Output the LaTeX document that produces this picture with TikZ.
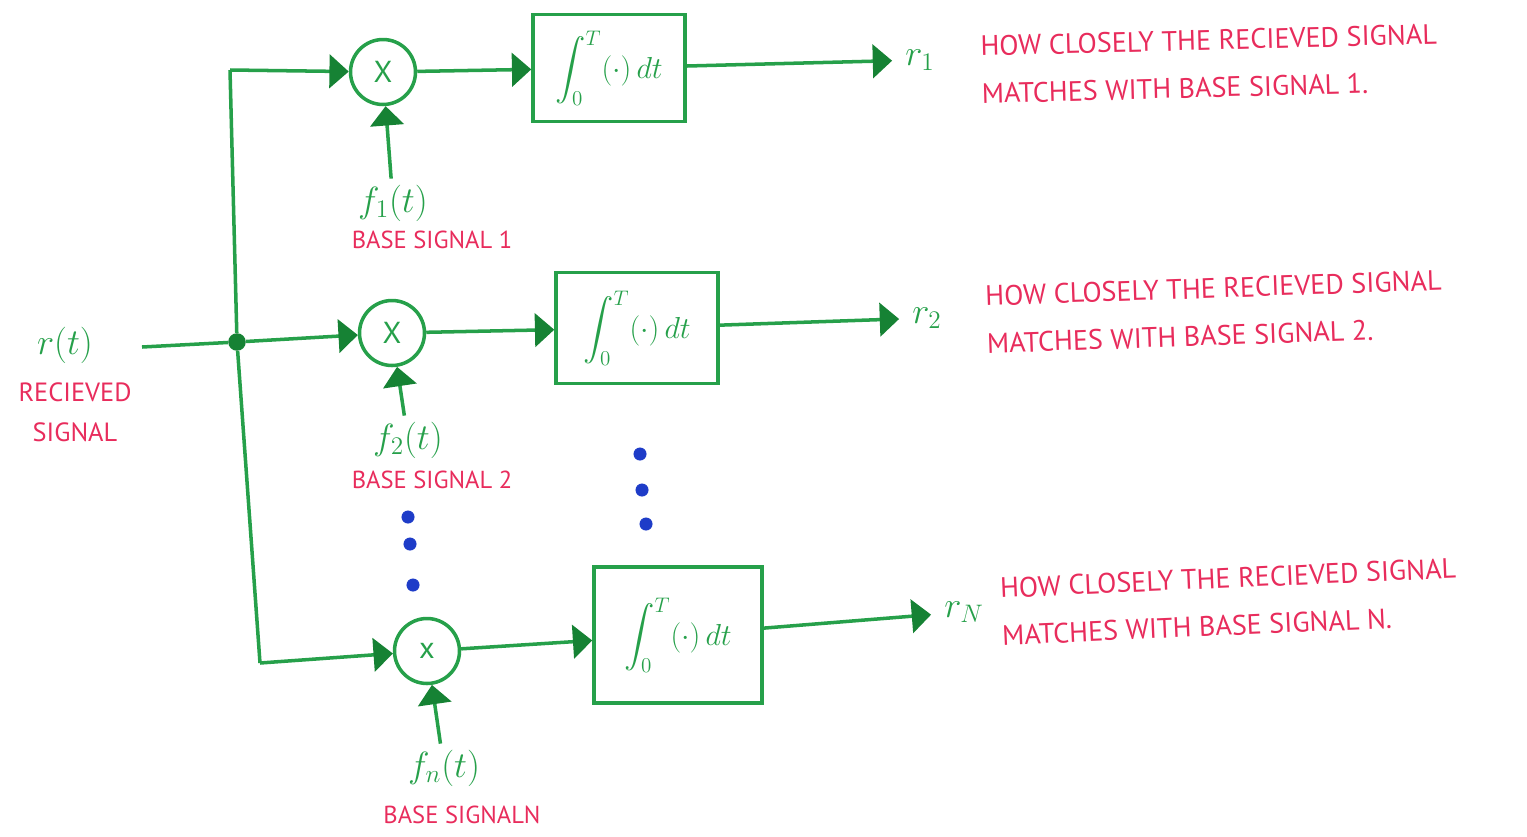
\documentclass[tikz,border=0pt]{standalone}
\usepackage{amsmath}
\usepackage{fontspec}
\setmainfont{PT Sans}
\usepackage{tikz}
\usepackage{tkz-euclide}
\usetikzlibrary{arrows.meta}

\definecolor{pen}{RGB}{38,160,74}
\definecolor{pendark}{RGB}{22,130,52}
\definecolor{ink}{RGB}{232,44,92}
\definecolor{dotblue}{RGB}{30,60,200}

\begin{document}
\begin{tikzpicture}[x=0.02cm, y=-0.02cm,
    wire/.style={draw=pen, line width=2pt},
    tip/.style={-{Triangle[length=11pt,width=19pt,color=pendark]}},
    mult/.style={circle, draw=pen, line width=2pt, minimum size=1.3cm, inner sep=0pt, text=pen, font=\LARGE},
    intbox/.style={draw=pen, line width=2pt, text=pen, font=\LARGE},
    sig/.style={text=pen, font=\huge},
    base/.style={text=ink, font=\fontsize{14}{17}\selectfont},
    note/.style={text=ink, font=\fontsize{16}{27}\selectfont, align=left, anchor=west}]
    \useasboundingbox (0,0) rectangle (1527,836);
    \node[sig] (rt) at (65,345) {$r(t)$};
    \node[text=ink, font=\fontsize{15}{23}\selectfont, align=center] (rl) at (75,412) {RECIEVED\\SIGNAL};
    \coordinate (in) at (142,347);
    \node[circle, fill=pendark, inner sep=0pt, minimum size=10pt] (j) at (237,342) {};
    \coordinate (top) at (230,70);
    \coordinate (bot) at (260,663);
    \node[mult] (m1) at (383,72) {X};
    \node[mult] (m2) at (392,333) {X};
    \node[mult] (mn) at (427,651) {x};
    \node[intbox, minimum width=3.04cm, minimum height=2.14cm] (b1) at (609,68) {$\displaystyle\int_0^T(\cdot)\,dt$};
    \node[intbox, minimum width=3.24cm, minimum height=2.22cm] (b2) at (637,328) {$\displaystyle\int_0^T(\cdot)\,dt$};
    \node[intbox, minimum width=3.36cm, minimum height=2.72cm] (bn) at (678,635) {$\displaystyle\int_0^T(\cdot)\,dt$};
    \node[sig] (f1) at (393,203) {$f_1(t)$};
    \node[sig] (f2) at (408,440) {$f_2(t)$};
    \node[sig] (fn) at (444,768) {$f_n(t)$};
    \node[base] (s1) at (432,240) {BASE SIGNAL 1};
    \node[base] (s2) at (432,480) {BASE SIGNAL 2};
    \node[base] (sn) at (462,815) {BASE SIGNALN};
    \node[sig] (r1) at (920,60) {$r_1$};
    \node[sig] (r2) at (927,318) {$r_2$};
    \node[sig] (rn) at (964,612) {$r_N$};
    \node[note, rotate=1.5] (d1) at (975,70) {HOW CLOSELY THE RECIEVED SIGNAL\\MATCHES WITH BASE SIGNAL 1.};
    \node[note, rotate=2] (d2) at (980,320) {HOW CLOSELY THE RECIEVED SIGNAL\\MATCHES WITH BASE SIGNAL 2.};
    \node[note, rotate=2.5] (dn) at (995,612) {HOW CLOSELY THE RECIEVED SIGNAL\\MATCHES WITH BASE SIGNAL N.};
    \draw[wire] (in) -- (j);
    \draw[wire] (top) -- (j) -- (bot);
    \draw[wire, tip] (top) -- (m1);
    \draw[wire, tip] (j) -- (m2);
    \draw[wire, tip] (bot) -- (mn);
    \draw[wire, tip] (m1) -- (b1);
    \draw[wire, tip] (m2) -- (b2);
    \draw[wire, tip] (mn) -- (bn);
    \draw[wire, tip] (f1) -- (m1);
    \draw[wire, tip] (f2) -- (m2);
    \draw[wire, tip] (fn) -- (mn);
    \draw[wire, tip, shorten >=4pt] (b1) -- (r1);
    \draw[wire, tip, shorten >=4pt] (b2) -- (r2);
    \draw[wire, tip, shorten >=4pt] (bn) -- (rn);
    \tkzDefPoints{408/517/P,410/544/Q,413/585/R,640/454/U,642/490/V,646/524/W}
    \tkzDrawPoints[color=dotblue, fill=dotblue, size=7](P,Q,R,U,V,W)
\end{tikzpicture}
\end{document}
